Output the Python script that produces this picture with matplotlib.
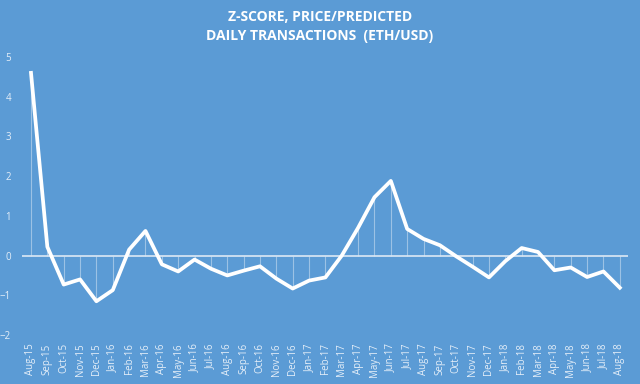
import matplotlib.pyplot as plt

months = ['Aug-15', 'Sep-15', 'Oct-15', 'Nov-15', 'Dec-15', 'Jan-16', 'Feb-16', 'Mar-16',
          'Apr-16', 'May-16', 'Jun-16', 'Jul-16', 'Aug-16', 'Sep-16', 'Oct-16', 'Nov-16',
          'Dec-16', 'Jan-17', 'Feb-17', 'Mar-17', 'Apr-17', 'May-17', 'Jun-17', 'Jul-17',
          'Aug-17', 'Sep-17', 'Oct-17', 'Nov-17', 'Dec-17', 'Jan-18', 'Feb-18', 'Mar-18',
          'Apr-18', 'May-18', 'Jun-18', 'Jul-18', 'Aug-18']
zscore = [4.6, 0.22, -0.73, -0.6, -1.15, -0.87, 0.15, 0.62,
          -0.22, -0.4, -0.1, -0.33, -0.5, -0.38, -0.27, -0.58,
          -0.83, -0.63, -0.55, 0.0, 0.7, 1.47, 1.88, 0.67,
          0.42, 0.26, -0.02, -0.28, -0.55, -0.14, 0.19, 0.09,
          -0.37, -0.3, -0.54, -0.4, -0.81]

bg = '#5b9bd5'
plt.rcParams['font.family'] = ['Open Sans', 'DejaVu Sans']

fig = plt.figure(figsize=(6.4, 3.84), dpi=100, facecolor=bg)
ax = fig.add_axes([22/640, 49/384, 606/640, 278/384])
ax.set_facecolor(bg)

x = list(range(len(months)))

# drop lines
ax.vlines(x, 0, zscore, color='white', alpha=0.4, lw=0.8)
ax.axhline(0, color='#dce8f5', lw=1.2)
ax.plot(x, zscore, color='white', lw=2.7, solid_joinstyle='round')

ax.set_xlim(-0.55, 36.5)
ax.set_ylim(-2, 5)
ax.set_yticks(range(-2, 6))
ax.set_xticks(x)
ax.set_xticklabels(months, rotation=90)
ax.tick_params(axis='x', length=0, pad=6, labelsize=7, labelcolor='#e4eef8')
ax.tick_params(axis='y', length=0, pad=8, labelsize=7, labelcolor='#e4eef8')
for s in ax.spines.values():
    s.set_visible(False)

fig.text(0.5, 0.975, 'Z-SCORE, PRICE/PREDICTED\nDAILY TRANSACTIONS  (ETH/USD)',
         ha='center', va='top', color='white', fontsize=10, fontweight='bold',
         linespacing=1.5)

plt.savefig('out.png', dpi=100, facecolor=bg)
